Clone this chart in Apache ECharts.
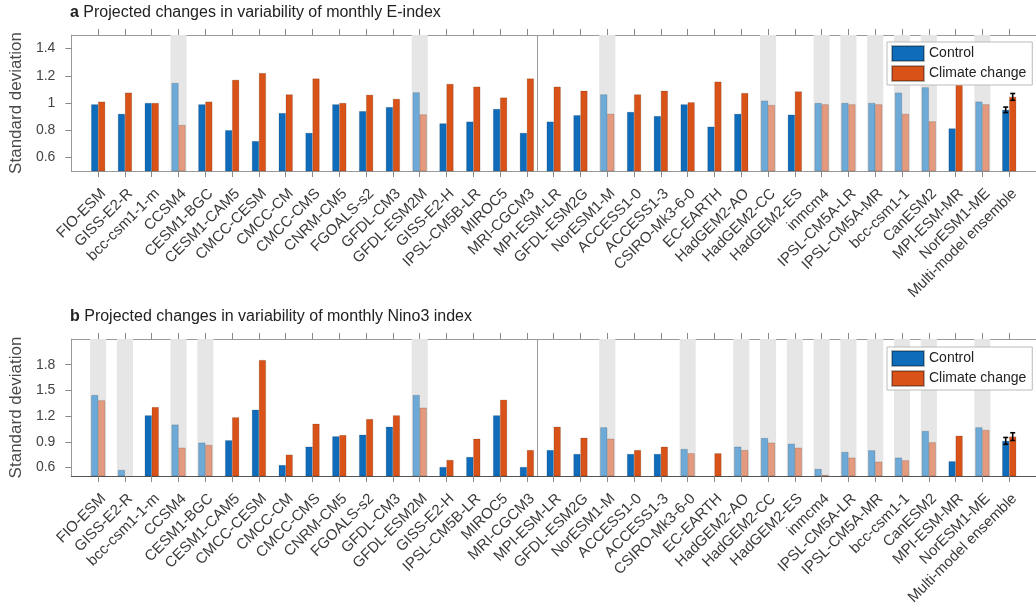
<!DOCTYPE html>
<html>
<head>
<meta charset="utf-8">
<script src="https://cdn.jsdelivr.net/npm/echarts@6/dist/echarts.min.js"></script>
<style>
  html, body { margin: 0; padding: 0; background: #fff; }
  #chart { width: 1036px; height: 609px; }
</style>
</head>
<body>
<div id="chart"></div>
<script>
// model names (x categories, placed at 1..35)
const models = ['FIO-ESM', 'GISS-E2-R', 'bcc-csm1-1-m', 'CCSM4', 'CESM1-BGC', 'CESM1-CAM5', 'CMCC-CESM',
  'CMCC-CM', 'CMCC-CMS', 'CNRM-CM5', 'FGOALS-s2', 'GFDL-CM3', 'GFDL-ESM2M', 'GISS-E2-H', 'IPSL-CM5B-LR',
  'MIROC5', 'MRI-CGCM3', 'MPI-ESM-LR', 'GFDL-ESM2G', 'NorESM1-M', 'ACCESS1-0', 'ACCESS1-3', 'CSIRO-Mk3-6-0',
  'EC-EARTH', 'HadGEM2-AO', 'HadGEM2-CC', 'HadGEM2-ES', 'inmcm4', 'IPSL-CM5A-LR', 'IPSL-CM5A-MR',
  'bcc-csm1-1', 'CanESM2', 'MPI-ESM-MR', 'NorESM1-ME', 'Multi-model ensemble'];

// panel a: E-index
const eControl = [0.99, 0.92, 1.00, 1.147, 0.99, 0.80, 0.72, 0.926, 0.78, 0.99, 0.94, 0.97, 1.078, 0.85, 0.863,
  0.956, 0.78, 0.863, 0.91, 1.063, 0.934, 0.904, 0.99, 0.826, 0.92, 1.017, 0.914, 1.0, 1.0, 1.0, 1.076, 1.115,
  0.813, 1.01, 0.95];
const eClimate = [1.01, 1.076, 1.0, 0.838, 1.01, 1.17, 1.22, 1.063, 1.18, 1.0, 1.06, 1.03, 0.916, 1.14, 1.12,
  1.04, 1.18, 1.12, 1.09, 0.92, 1.063, 1.09, 1.005, 1.157, 1.073, 0.985, 1.085, 0.99, 0.99, 0.99, 0.92, 0.865,
  1.2, 0.99, 1.045];
const eShaded = [3, 12, 19, 25, 27, 28, 29, 30, 31, 33];
const eErr = [0.02, 0.025];
const eTicks = [0.6, 0.8, 1, 1.2, 1.4];

// panel b: Nino3 index
const nControl = [1.445, 0.57, 1.208, 1.10, 0.889, 0.917, 1.274, 0.628, 0.842, 0.963, 0.982, 1.075, 1.445, 0.605,
  0.722, 1.208, 0.605, 0.803, 0.757, 1.068, 0.757, 0.757, 0.815, null, 0.842, 0.943, 0.877, 0.582, 0.78, 0.80,
  0.714, 1.025, 0.672, 1.068, 0.91];
const nClimate = [1.383, null, 1.305, 0.83, 0.862, 1.185, 1.854, 0.749, 1.11, 0.978, 1.165, 1.208, 1.297, 0.687,
  0.935, 1.39, 0.803, 1.075, 0.947, 0.935, 0.803, 0.842, 0.765, 0.765, 0.803, 0.889, 0.83, 0.512, 0.714, 0.667,
  0.683, 0.893, 0.97, 1.037, 0.96];
const nShaded = [0, 1, 3, 4, 12, 19, 22, 24, 25, 26, 27, 28, 29, 30, 31, 33];
const nErr = [0.04, 0.045];
const nTicks = [0.6, 0.9, 1.2, 1.5, 1.8];

const FONT = 'Liberation Sans, Arial, sans-serif';
const BLUE = '#0f6cbb', BLUE_L = '#6eaad8';
const RED = '#d95319', RED_L = '#e39a7e';
const xTicks = models.map((m, i) => i + 1);

const chart = echarts.init(document.getElementById('chart'));

function xAxisFor(g, pos) {
  return {
    type: 'value', gridIndex: g, position: pos, min: 0, max: 36,
    axisLine: { show: true, onZero: false, lineStyle: { color: pos === 'bottom' && g === 1 ? '#555' : '#999' } },
    axisTick: { show: true, length: 6, customValues: xTicks, lineStyle: { color: '#888' } },
    axisLabel: {
      show: pos === 'bottom', customValues: xTicks, rotate: 45, margin: 15,
      verticalAlign: 'top', fontSize: 15, color: '#3a3a3a', fontFamily: FONT,
      formatter: v => models[Math.round(v) - 1] || ''
    },
    splitLine: { show: false }
  };
}

function yAxisFor(g, max, ticks) {
  return {
    type: 'value', gridIndex: g, min: 0.5, max: max,
    name: 'Standard deviation', nameLocation: 'middle', nameGap: 45,
    nameTextStyle: { fontSize: 17, color: '#4a4a4a', fontFamily: FONT },
    axisLine: { show: true, lineStyle: { color: '#999' } },
    axisTick: { show: true, length: 6, customValues: ticks, lineStyle: { color: '#888' } },
    axisLabel: {
      customValues: ticks, fontSize: 14, color: '#444', fontFamily: FONT, margin: 16,
      formatter: v => String(+v.toFixed(1))
    },
    splitLine: { show: false }
  };
}

function barData(vals, shaded, dark, light) {
  const out = [];
  vals.forEach((v, i) => {
    if (v == null) return;
    out.push({ value: [i + 1, v], itemStyle: { color: shaded.includes(i) ? light : dark } });
  });
  return out;
}

function panelSeries(g, ctl, cc, shaded, err) {
  const last = models.length;
  return [
    {
      name: 'Control', type: 'bar', xAxisIndex: g * 2, yAxisIndex: g,
      barWidth: 7, barGap: '0%', z: 2,
      itemStyle: { color: BLUE, borderColor: 'rgba(0,0,0,0.3)', borderWidth: 0.5 },
      data: barData(ctl, shaded, BLUE, BLUE_L),
      markArea: {
        silent: true, z: 1,
        itemStyle: { color: '#e6e6e6' },
        data: shaded.map(i => [{ xAxis: i + 1 - 0.3 }, { xAxis: i + 1 + 0.3 }])
      },
      markLine: {
        silent: true, symbol: ['none', 'none'], label: { show: false },
        lineStyle: { color: '#999', width: 1, type: 'solid' },
        data: [{ xAxis: 17.5 }]
      }
    },
    {
      name: 'Climate change', type: 'bar', xAxisIndex: g * 2, yAxisIndex: g,
      barWidth: 7, barGap: '0%', z: 2,
      itemStyle: { color: RED, borderColor: 'rgba(0,0,0,0.3)', borderWidth: 0.5 },
      data: barData(cc, shaded, RED, RED_L)
    },
    {
      type: 'custom', xAxisIndex: g * 2, yAxisIndex: g, z: 5, silent: true,
      data: [[last, ctl[last - 1], err[0], -1], [last, cc[last - 1], err[1], 1]],
      renderItem: (params, api) => {
        const x = api.value(0), y = api.value(1), e = api.value(2), s = api.value(3);
        const hi = api.coord([x, y + e]), lo = api.coord([x, y - e]);
        const cx = hi[0] + s * 3.5;
        const st = { stroke: '#000', lineWidth: 1.6 };
        return {
          type: 'group', children: [
            { type: 'line', shape: { x1: cx, y1: hi[1], x2: cx, y2: lo[1] }, style: st },
            { type: 'line', shape: { x1: cx - 2.5, y1: hi[1], x2: cx + 2.5, y2: hi[1] }, style: st },
            { type: 'line', shape: { x1: cx - 2.5, y1: lo[1], x2: cx + 2.5, y2: lo[1] }, style: st }
          ]
        };
      }
    }
  ];
}

function legendAt(top) {
  return {
    left: 887, top: top, orient: 'vertical', selectedMode: false,
    data: ['Control', 'Climate change'], icon: 'rect',
    itemWidth: 32, itemHeight: 15, itemGap: 3, padding: [3, 6, 3, 4],
    borderColor: '#bbb', borderWidth: 1, backgroundColor: '#fff',
    textStyle: { fontSize: 14, color: '#222', fontFamily: FONT }
  };
}

function titleAt(top, letter, text) {
  return {
    left: 70, top: top, padding: 0,
    text: '{b|' + letter + '} ' + text,
    textStyle: {
      fontSize: 16, fontWeight: 'normal', color: '#222', fontFamily: FONT,
      rich: { b: { fontSize: 16, fontWeight: 'bold', color: '#222', fontFamily: FONT } }
    }
  };
}

chart.setOption({
  animation: false,
  title: [
    titleAt(5, 'a', 'Projected changes in variability of monthly E-index'),
    titleAt(309, 'b', 'Projected changes in variability of monthly Nino3 index')
  ],
  legend: [legendAt(42), legendAt(347)],
  grid: [
    { left: 70, top: 35, width: 968, height: 136 },
    { left: 70, top: 339, width: 968, height: 137 }
  ],
  xAxis: [xAxisFor(0, 'bottom'), xAxisFor(0, 'top'), xAxisFor(1, 'bottom'), xAxisFor(1, 'top')],
  yAxis: [yAxisFor(0, 1.5, eTicks), yAxisFor(1, 2.1, nTicks)],
  series: [
    ...panelSeries(0, eControl, eClimate, eShaded, eErr),
    ...panelSeries(1, nControl, nClimate, nShaded, nErr)
  ]
});
</script>
</body>
</html>
